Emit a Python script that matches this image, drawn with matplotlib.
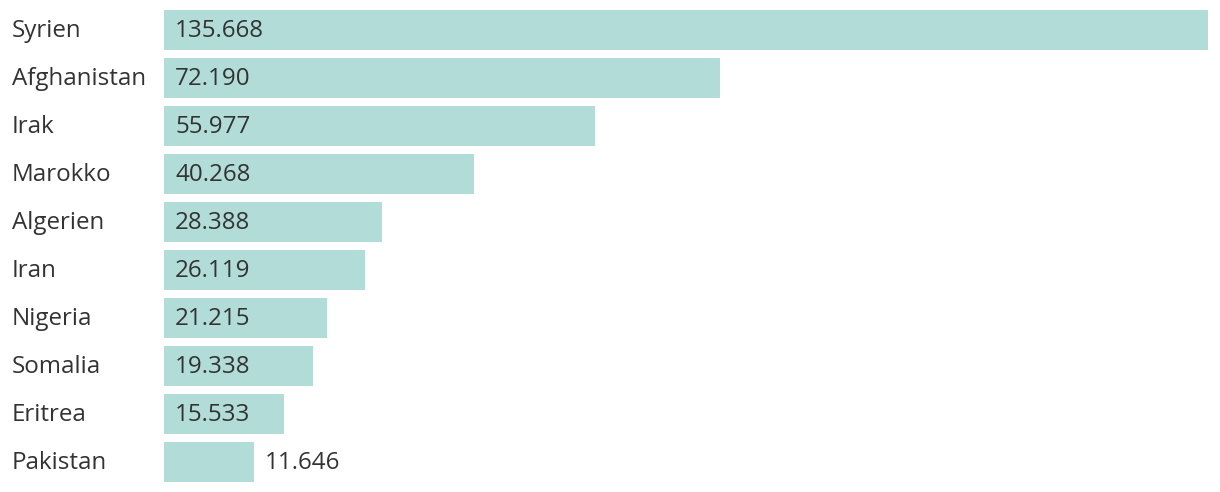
import matplotlib.pyplot as plt

countries = ["Syrien", "Afghanistan", "Irak", "Marokko", "Algerien",
             "Iran", "Nigeria", "Somalia", "Eritrea", "Pakistan"]
values = [135668, 72190, 55977, 40268, 28388, 26119, 21215, 19338, 15533, 11646]
labels = ["135.668", "72.190", "55.977", "40.268", "28.388",
          "26.119", "21.215", "19.338", "15.533", "11.646"]

BAR_COLOR = "#b2dcd8"
TEXT_COLOR = "#333333"

plt.rcParams["font.family"] = ["Open Sans", "DejaVu Sans"]

W, H = 1220, 492
fig = plt.figure(figsize=(W / 100, H / 100), dpi=100)
ax = fig.add_axes([164 / W, 6 / H, (1208 - 164) / W, 480 / H])

y = list(range(len(countries)))
ax.barh(y, values, height=0.82, color=BAR_COLOR)
ax.set_xlim(0, max(values))
ax.set_ylim(len(countries) - 0.5, -0.5)
ax.axis("off")

for i, (v, lab) in enumerate(zip(values, labels)):
    # Wert innerhalb des Balkens, wenn genug Platz ist
    x0 = 0 if v > 13000 else v
    ax.annotate(lab, (x0, i), xytext=(11, -1.5), textcoords="offset pixels",
                va="center", ha="left", fontsize=17.4, color=TEXT_COLOR)
    ax.annotate(countries[i], (0, i), xytext=(12 - 164, -1.5), textcoords="offset pixels",
                va="center", ha="left", fontsize=17.4, color=TEXT_COLOR,
                annotation_clip=False)

fig.savefig("out.png", dpi=100)
